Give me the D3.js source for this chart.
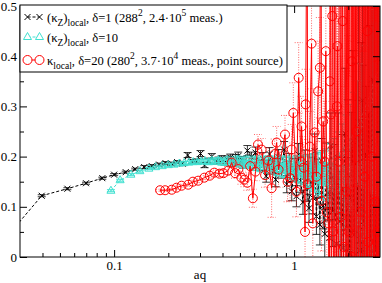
<!DOCTYPE html>
<html lang="en">
  <head>
    <title>kappa local vs aq</title>
    <meta charset="utf-8">
    <style>
      body { margin: 0; background: #fff; }
      svg { display: block; }
      svg text { font-family: "Liberation Serif", "Times New Roman", serif; fill: #000; }
      .axis text { font-size: 13px; }
      .axis line { stroke: #000; }
      .axis path { display: none; }
    </style>
    <script src="https://d3js.org/d3.v7.min.js"></script>
  </head>
  <body>
    <script>

    // rows are [aq, value, error]
    var delta1 = [
      [0.0241,0.031,0.002],[0.0396,0.122,0.002],[0.055,0.136,0.002],[0.0698,0.147,0.002],[0.086,0.157,0.002],
      [0.100,0.164,0.002],[0.116,0.169,0.002],[0.131,0.175,0.002],[0.147,0.179,0.003],[0.162,0.181,0.003],
      [0.178,0.184,0.003],[0.193,0.187,0.003],[0.209,0.186,0.003],[0.224,0.189,0.003],[0.240,0.186,0.004],
      [0.256,0.203,0.005],[0.271,0.190,0.004],[0.287,0.191,0.004],[0.302,0.206,0.006],[0.318,0.183,0.005],
      [0.333,0.192,0.005],[0.349,0.200,0.006],[0.364,0.190,0.005],[0.380,0.193,0.006],[0.396,0.196,0.006],
      [0.411,0.189,0.006],[0.427,0.194,0.007],[0.442,0.198,0.007],[0.458,0.188,0.007],[0.473,0.196,0.008],
      [0.489,0.201,0.008],[0.505,0.192,0.008],[0.52,0.186,0.009],[0.55,0.212,0.010],[0.58,0.199,0.010],
      [0.61,0.208,0.011],[0.64,0.183,0.011],[0.67,0.196,0.012],[0.70,0.161,0.012],[0.73,0.205,0.013],
      [0.76,0.178,0.013],[0.79,0.154,0.014],[0.82,0.199,0.015],[0.85,0.172,0.015],[0.88,0.214,0.016],
      [0.91,0.145,0.017],[0.94,0.188,0.018],[0.97,0.131,0.019],[1.00,0.176,0.020],[1.03,0.121,0.021],
      [1.06,0.204,0.022],[1.09,0.152,0.023],[1.12,0.109,0.024],[1.15,0.187,0.026],[1.18,0.138,0.027],
      [1.21,0.097,0.028],[1.24,0.169,0.030],[1.27,0.118,0.032],[1.30,0.211,0.034],[1.33,0.081,0.036],
      [1.36,0.157,0.038],[1.39,0.064,0.040],[1.42,0.193,0.043],[1.45,0.102,0.046],[1.48,0.046,0.049],
      [1.51,0.175,0.052],[1.54,0.128,0.056],[1.57,0.038,0.060],[1.60,0.222,0.065],[1.64,0.091,0.070],
      [1.68,0.149,0.075],[1.72,0.026,0.080],[1.76,0.197,0.090],[1.80,0.071,0.10],[1.84,0.134,0.11],
      [1.88,0.018,0.12],[1.92,0.246,0.13],[1.96,0.058,0.14],[2.00,0.163,0.15],[2.04,0.007,0.16],
      [2.08,0.118,0.17],[2.12,0.231,0.18],[2.16,0.044,0.19],[2.20,0.186,0.20],[2.24,0.092,0.22],
      [2.28,0.268,0.24],[2.32,0.013,0.26],[2.36,0.147,0.28],[2.40,0.312,0.30],[2.44,0.062,0.32],
      [2.48,0.205,0.34],[2.52,-0.02,0.36],[2.56,0.139,0.38],[2.60,0.284,0.40],[2.64,0.031,0.43],
      [2.68,0.176,0.46],[2.72,0.354,0.49],[2.76,0.087,0.52],[2.80,0.228,0.55],[2.84,-0.04,0.58],
      [2.88,0.164,0.62],[2.92,0.395,0.66],[2.96,0.05,0.70]
    ];

    var delta10 = [
      [0.096,0.132,0.002],[0.108,0.153,0.002],[0.124,0.164,0.002],[0.139,0.171,0.002],[0.156,0.176,0.002],
      [0.170,0.179,0.002],[0.185,0.181,0.002],[0.200,0.183,0.003],[0.215,0.184,0.003],[0.230,0.186,0.003],
      [0.245,0.187,0.003],[0.260,0.188,0.003],[0.275,0.189,0.003],[0.290,0.189,0.004],[0.305,0.190,0.004],
      [0.320,0.191,0.004],[0.335,0.189,0.005],[0.350,0.192,0.005],[0.365,0.190,0.005],[0.380,0.193,0.005],
      [0.395,0.189,0.006],[0.41,0.189,0.006],[0.425,0.193,0.006],[0.44,0.187,0.006],[0.455,0.192,0.006],
      [0.47,0.188,0.007],[0.485,0.194,0.007],[0.50,0.186,0.007],[0.515,0.191,0.007],[0.53,0.185,0.008],
      [0.545,0.193,0.008],[0.56,0.184,0.008],[0.575,0.190,0.008],[0.59,0.182,0.009],[0.605,0.192,0.009],
      [0.62,0.181,0.009],[0.635,0.189,0.009],[0.65,0.180,0.010],[0.665,0.191,0.010],[0.68,0.179,0.010],
      [0.695,0.188,0.010],[0.71,0.178,0.011],[0.725,0.190,0.011],[0.74,0.177,0.011],[0.755,0.187,0.011],
      [0.77,0.176,0.012],[0.785,0.189,0.012],[0.80,0.175,0.012],[0.815,0.186,0.012],[0.83,0.174,0.013],
      [0.845,0.188,0.013],[0.86,0.173,0.013],[0.875,0.185,0.013],[0.89,0.172,0.014],[0.905,0.187,0.014],
      [0.92,0.171,0.014],[0.935,0.184,0.014],[0.95,0.170,0.015],[0.965,0.186,0.015],[0.98,0.169,0.015],
      [1.00,0.183,0.016],[1.02,0.167,0.016],[1.04,0.185,0.017],[1.06,0.166,0.017],[1.08,0.182,0.018],
      [1.10,0.164,0.018],[1.12,0.184,0.019],[1.14,0.163,0.019],[1.16,0.181,0.020],[1.18,0.161,0.021],
      [1.20,0.183,0.021],[1.22,0.160,0.022],[1.24,0.180,0.023],[1.26,0.158,0.024],[1.28,0.182,0.024],
      [1.30,0.156,0.025],[1.32,0.179,0.026],[1.34,0.155,0.027],[1.36,0.181,0.028],[1.38,0.153,0.029],
      [1.40,0.178,0.030],[1.42,0.151,0.031],[1.44,0.180,0.032],[1.46,0.149,0.033],[1.48,0.177,0.034],
      [1.50,0.180,0.035],[1.54,0.150,0.037],[1.58,0.186,0.039],[1.62,0.143,0.041],[1.66,0.192,0.044],
      [1.70,0.136,0.047],[1.75,0.199,0.050],[1.80,0.128,0.054],[1.85,0.207,0.058],[1.90,0.119,0.062],
      [1.95,0.216,0.067],[2.00,0.108,0.072],[2.05,0.226,0.078],[2.10,0.097,0.084],[2.15,0.238,0.090],
      [2.20,0.084,0.097],[2.25,0.251,0.10],[2.30,0.070,0.11],[2.35,0.265,0.12],[2.40,0.055,0.13],
      [2.45,0.281,0.14],[2.50,0.040,0.15],[2.55,0.297,0.16],[2.60,0.026,0.17],[2.65,0.313,0.18],
      [2.70,0.012,0.19],[2.75,0.330,0.20],[2.80,0.002,0.21],[2.85,0.346,0.22],[2.90,-0.01,0.23],
      [2.95,0.362,0.24]
    ];

    var delta20 = [
      [0.180,0.133,0.002],[0.192,0.133,0.002],[0.209,0.134,0.002],[0.222,0.138,0.003],[0.237,0.142,0.003],
      [0.258,0.144,0.003],[0.274,0.150,0.003],[0.293,0.152,0.004],[0.317,0.158,0.004],[0.340,0.162,0.005],
      [0.360,0.168,0.005],[0.385,0.166,0.006],[0.405,0.167,0.007],[0.43,0.172,0.008],[0.45,0.188,0.010],
      [0.47,0.167,0.010],[0.49,0.175,0.012],[0.51,0.158,0.013],[0.53,0.154,0.014],[0.55,0.148,0.015],
      [0.57,0.181,0.016],[0.59,0.117,0.018],[0.61,0.170,0.018],[0.63,0.224,0.020],[0.66,0.214,0.022],
      [0.69,0.163,0.024],[0.72,0.192,0.026],[0.75,0.137,0.058],[0.78,0.205,0.030],[0.80,0.228,0.032],
      [0.82,0.174,0.035],[0.89,0.244,0.038],[0.92,0.150,0.040],[0.95,0.157,0.045],[0.97,0.214,0.050],
      [0.99,0.287,0.060],[1.03,0.130,0.050],[1.06,0.357,0.070],[1.09,0.190,0.050],
      [1.10,0.260,0.060],[1.13,0.178,0.050],[1.15,0.050,0.060],[1.16,0.304,0.070],[1.18,0.800,0.200],
      [1.19,0.145,0.060],[1.22,0.220,0.070],[1.25,0.425,0.090],[1.27,0.067,0.080],
      [1.30,0.248,0.080],[1.33,0.160,0.090],[1.36,0.330,0.100],[1.39,0.377,0.100],[1.41,0.850,0.200],
      [1.42,0.112,0.100],[1.45,0.270,0.110],[1.48,0.190,0.120],[1.50,0.410,0.130],[1.52,0.089,0.140],
      [1.55,0.067,0.150],[1.57,-0.15,0.200],[1.58,0.350,0.200],
      [1.59,0.980,0.240],[1.60,0.284,0.250],[1.61,-0.20,0.250],[1.63,0.480,0.260],[1.64,1.02,0.260],
      [1.65,0.051,0.270],[1.67,-0.25,0.270],[1.68,0.560,0.280],[1.70,1.05,0.280],[1.71,-0.05,0.290],
      [1.73,0.300,0.290],[1.74,0.420,0.300],[1.76,-0.30,0.300],[1.77,0.190,0.310],[1.79,1.10,0.310],
      [1.80,0.620,0.320],[1.82,0.080,0.320],[1.83,-0.12,0.330],[1.85,1.08,0.330],[1.86,0.470,0.340],
      [1.88,-0.35,0.340],[1.89,0.020,0.350],[1.91,1.12,0.350],[1.92,0.700,0.360],[1.94,-0.28,0.360],
      [1.95,0.130,0.370],[1.97,1.15,0.370],[1.98,0.540,0.380],[1.99,-0.40,0.380],[2.00,0.051,0.390],
      [2.02,1.18,0.390],[2.03,0.760,0.400],[2.05,-0.32,0.400],[2.06,-0.20,0.410],[2.08,1.20,0.410],
      [2.09,0.390,0.420],[2.10,0.000,0.430],[2.12,1.14,0.430],[2.13,0.810,0.440],[2.15,-0.45,0.440],
      [2.16,-0.15,0.450],[2.18,1.22,0.450],[2.19,0.600,0.460],[2.21,-0.38,0.460],[2.22,0.250,0.470],
      [2.24,1.25,0.470],[2.25,0.880,0.480],[2.27,-0.42,0.480],[2.28,-0.30,0.490],[2.30,1.20,0.490],
      [2.31,0.510,0.500],[2.33,-0.50,0.500],[2.34,0.090,0.510],[2.36,1.28,0.510],[2.37,0.930,0.520],
      [2.39,-0.46,0.520],[2.40,-0.25,0.530],[2.42,1.30,0.530],[2.43,0.680,0.540],[2.45,-0.55,0.540],
      [2.46,0.160,0.550],[2.48,1.26,0.550],[2.49,0.970,0.560],[2.51,-0.48,0.560],[2.52,-0.40,0.570],
      [2.54,1.32,0.570],[2.55,0.450,0.580],[2.57,-0.58,0.580],[2.58,0.030,0.590],[2.60,1.35,0.590],
      [2.61,1.05,0.600],[2.63,-0.52,0.600],[2.64,-0.35,0.610],[2.66,1.30,0.610],[2.67,0.730,0.620],
      [2.69,-0.60,0.620],[2.70,0.200,0.630],[2.72,1.38,0.630],[2.73,1.10,0.640],[2.75,-0.56,0.640],
      [2.76,-0.45,0.650],[2.78,1.40,0.650],[2.79,0.560,0.660],[2.81,-0.62,0.660],[2.82,0.110,0.670],
      [2.84,1.36,0.670],[2.85,1.15,0.680],[2.87,-0.58,0.680],[2.88,-0.30,0.690],[2.89,1.42,0.690],
      [2.90,0.050,0.700],[2.92,-0.65,0.700],[2.93,0.800,0.710],[2.95,1.45,0.710],[2.96,-0.50,0.720],
      [2.98,1.40,0.720],[2.99,0.650,0.730]
    ];

    var xMajor = [0.1, 1];
    var xMinor = [0.04, 0.05, 0.06, 0.07, 0.08, 0.09, 0.2, 0.3, 0.4, 0.5, 0.6, 0.7, 0.8, 0.9, 2];
    var yMajor = [0, 0.1, 0.2, 0.3, 0.4, 0.5];
    var yMinor = [0.05, 0.15, 0.25, 0.35, 0.45];

    var W = 382, H = 283;
    // plot box (note: "top" is taken by window.top, so prefix these)
    var pL = 20, pR = 380, pT = 6, pB = 257;
    var serif = "'Liberation Serif', 'Times New Roman', serif";

    var svg = d3.select("body")
                .append("svg")
                .attr("width", W)
                .attr("height", H)
                .attr("font-family", serif);

    var x = d3.scaleLog()
              .domain([0.03, 3])
              .range([pL, pR]);

    var y = d3.scaleLinear()
              .domain([0, 0.5])
              .range([pB, pT]);

    svg.append("clipPath")
       .attr("id", "plotclip")
       .append("rect")
       .attr("x", pL)
       .attr("y", pT)
       .attr("width", pR - pL)
       .attr("height", pB - pT);

    var plot = svg.append("g").attr("clip-path", "url(#plotclip)");

    var line = d3.line()
                 .x(function(d) { return x(d[0]); })
                 .y(function(d) { return y(d[1]); });

    function errPath(d) {
      var cx = x(d[0]), lo = y(d[1] - d[2]), hi = y(d[1] + d[2]);
      return "M" + cx + "," + lo + "V" + hi +
             "M" + (cx - 4) + "," + lo + "h8" +
             "M" + (cx - 4) + "," + hi + "h8";
    }

    var crossPath = "M-3,-3L3,3M-3,3L3,-3";
    var triPath = "M0,-4.5L4,2.5L-4,2.5Z";

    // delta = 1, black crosses, dashed line
    var s1 = plot.append("g");
    s1.selectAll("path.err")
      .data(delta1).enter()
      .append("path")
      .attr("d", errPath)
      .attr("fill", "none")
      .attr("stroke", "#000")
      .attr("stroke-width", 0.8);
    s1.append("path")
      .datum(delta1)
      .attr("d", line)
      .attr("fill", "none")
      .attr("stroke", "#000")
      .attr("stroke-dasharray", "3,2");
    s1.selectAll("path.sym")
      .data(delta1).enter()
      .append("path")
      .attr("d", crossPath)
      .attr("transform", function(d) { return "translate(" + x(d[0]) + "," + y(d[1]) + ")"; })
      .attr("fill", "none")
      .attr("stroke", "#000");

    // delta = 10, turquoise triangles
    var s2 = plot.append("g");
    s2.selectAll("path.err")
      .data(delta10).enter()
      .append("path")
      .attr("d", errPath)
      .attr("fill", "none")
      .attr("stroke", "#40e0d0");
    s2.append("path")
      .datum(delta10)
      .attr("d", line)
      .attr("fill", "none")
      .attr("stroke", "#40e0d0")
      .attr("stroke-dasharray", "3,2");
    s2.selectAll("path.sym")
      .data(delta10).enter()
      .append("path")
      .attr("d", triPath)
      .attr("transform", function(d) { return "translate(" + x(d[0]) + "," + y(d[1]) + ")"; })
      .attr("fill", "none")
      .attr("stroke", "#40e0d0");

    // delta = 20, red circles, dotted error bars
    var s3 = plot.append("g");
    s3.selectAll("path.err")
      .data(delta20).enter()
      .append("path")
      .attr("d", errPath)
      .attr("fill", "none")
      .attr("stroke", "#ff0000")
      .attr("stroke-opacity", 0.6)
      .attr("stroke-dasharray", "1,1.5");
    s3.append("path")
      .datum(delta20)
      .attr("d", line)
      .attr("fill", "none")
      .attr("stroke", "#ff0000");
    s3.selectAll("circle")
      .data(delta20).enter()
      .append("circle")
      .attr("cx", function(d) { return x(d[0]); })
      .attr("cy", function(d) { return y(d[1]); })
      .attr("r", 4.5)
      .attr("fill", "none")
      .attr("stroke", "#ff0000");

    // axes, ticks point inwards
    function styleAxis(g) {
      g.attr("font-family", serif).attr("font-size", 13);
      g.selectAll("text").style("font-family", serif);
    }

    svg.append("g").attr("class", "axis")
       .attr("transform", "translate(0," + pB + ")")
       .call(d3.axisBottom(x).tickValues(xMajor).tickFormat(d3.format("")).tickSize(-7).tickPadding(4))
       .call(styleAxis);
    svg.append("g").attr("class", "axis")
       .attr("transform", "translate(0," + pB + ")")
       .call(d3.axisBottom(x).tickValues(xMinor).tickFormat("").tickSize(-4));
    svg.append("g").attr("class", "axis")
       .attr("transform", "translate(0," + pT + ")")
       .call(d3.axisTop(x).tickValues(xMajor).tickFormat("").tickSize(-7));
    svg.append("g").attr("class", "axis")
       .attr("transform", "translate(0," + pT + ")")
       .call(d3.axisTop(x).tickValues(xMinor).tickFormat("").tickSize(-4));

    svg.append("g").attr("class", "axis")
       .attr("transform", "translate(" + pL + ",0)")
       .call(d3.axisLeft(y).tickValues(yMajor)
               .tickFormat(function(d) { return d === 0 ? "0" : d3.format(".1f")(d); })
               .tickSize(-7).tickPadding(3))
       .call(styleAxis);
    svg.append("g").attr("class", "axis")
       .attr("transform", "translate(" + pL + ",0)")
       .call(d3.axisLeft(y).tickValues(yMinor).tickFormat("").tickSize(-4));
    svg.append("g").attr("class", "axis")
       .attr("transform", "translate(" + pR + ",0)")
       .call(d3.axisRight(y).tickValues(yMajor).tickFormat("").tickSize(-7));
    svg.append("g").attr("class", "axis")
       .attr("transform", "translate(" + pR + ",0)")
       .call(d3.axisRight(y).tickValues(yMinor).tickFormat("").tickSize(-4));

    svg.append("rect")
       .attr("x", pL)
       .attr("y", pT)
       .attr("width", pR - pL)
       .attr("height", pB - pT)
       .attr("fill", "none")
       .attr("stroke", "#000");

    svg.append("text")
       .text("aq")
       .attr("x", 200)
       .attr("y", 279)
       .attr("text-anchor", "middle")
       .style("font-family", serif)
       .style("font-size", "13px");

    // legend
    var lg = svg.append("g").attr("class", "legend");
    lg.append("rect")
      .attr("x", pL)
      .attr("y", pT - 1)
      .attr("width", 267)
      .attr("height", 67)
      .attr("fill", "#fff")
      .attr("stroke", "#000");

    var rows = [17, 37, 60];
    var mx = [27.5, 39.5];

    lg.append("line").attr("x1", mx[0]).attr("x2", mx[1]).attr("y1", rows[0]).attr("y2", rows[0])
      .attr("stroke", "#000").attr("stroke-dasharray", "3,2");
    mx.forEach(function(m) {
      lg.append("path").attr("d", crossPath).attr("transform", "translate(" + m + "," + rows[0] + ")")
        .attr("fill", "none").attr("stroke", "#000");
    });
    lg.append("line").attr("x1", mx[0]).attr("x2", mx[1]).attr("y1", rows[1]).attr("y2", rows[1])
      .attr("stroke", "#40e0d0").attr("stroke-dasharray", "3,2");
    mx.forEach(function(m) {
      lg.append("path").attr("d", triPath).attr("transform", "translate(" + m + "," + rows[1] + ")")
        .attr("fill", "#fff").attr("stroke", "#40e0d0");
    });
    lg.append("line").attr("x1", mx[0]).attr("x2", mx[1]).attr("y1", rows[2]).attr("y2", rows[2])
      .attr("stroke", "#ff0000");
    mx.forEach(function(m) {
      lg.append("circle").attr("cx", m).attr("cy", rows[2]).attr("r", 4.5)
        .attr("fill", "#fff").attr("stroke", "#ff0000");
    });

    // pieces: [text, shift] shift: 0 normal, 1 subscript, -1 superscript
    var labels = [
      [["(\u03ba", 0], ["Z", 1], [")", 0], ["local", 1], [", \u03b4=1 (288", 0], ["2", -1], [", 2.4\u00b710", 0], ["5", -1], [" meas.)", 0]],
      [["(\u03ba", 0], ["Z", 1], [")", 0], ["local", 1], [", \u03b4=10", 0]],
      [["\u03ba", 0], ["local", 1], [", \u03b4=20 (280", 0], ["2", -1], [", 3.7\u00b710", 0], ["4", -1], [" meas., point source)", 0]]
    ];

    labels.forEach(function(parts, i) {
      var t = lg.append("text")
                .attr("x", 47)
                .attr("y", rows[i] + 5)
                .style("font-family", serif);
      var prev = 0;
      parts.forEach(function(p) {
        var off = p[1] === 1 ? 4 : (p[1] === -1 ? -6 : 0);
        t.append("tspan")
         .attr("dy", off - prev)
         .style("font-size", p[1] === 0 ? "12.6px" : "9.5px")
         .text(p[0]);
        prev = off;
      });
    });

    </script>
  </body>
</html>
